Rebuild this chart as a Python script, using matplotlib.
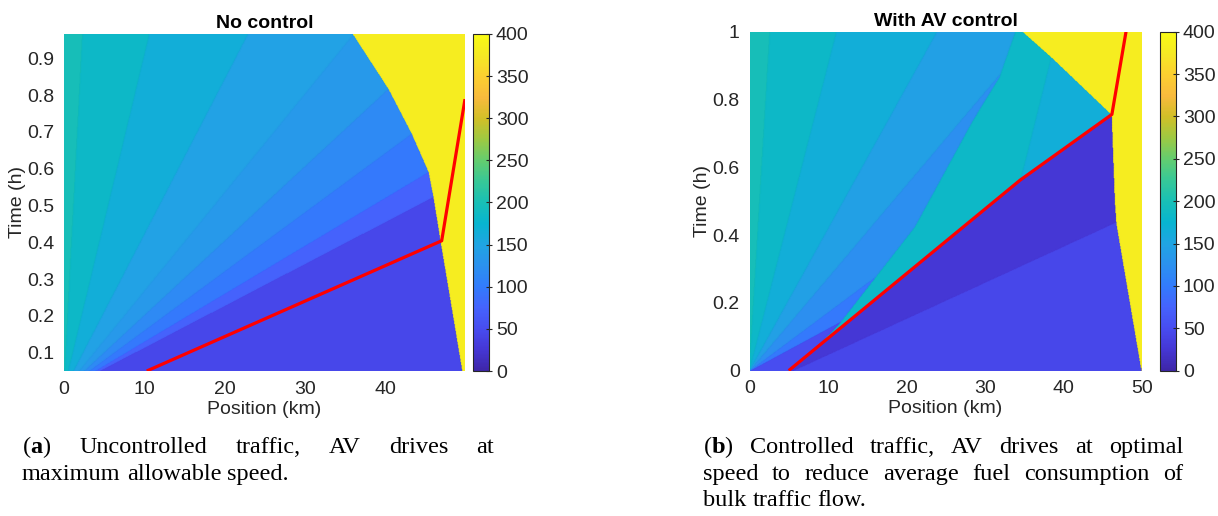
import numpy as np
import matplotlib.pyplot as plt
from matplotlib.colors import LinearSegmentedColormap

plt.rcParams['font.family'] = 'Liberation Sans'
plt.rcParams['mathtext.fontset'] = 'custom'
plt.rcParams['mathtext.rm'] = 'Liberation Serif'
plt.rcParams['mathtext.bf'] = 'Liberation Serif:bold'

# MATLAB parula, every 4th entry of the 64-colour table
parula = LinearSegmentedColormap.from_list('parula', [
    (0.2422, 0.1504, 0.6603), (0.2706, 0.2147, 0.8364), (0.2813, 0.3006, 0.9414),
    (0.2699, 0.3892, 0.9906), (0.1963, 0.4847, 0.9892), (0.1687, 0.5703, 0.9359),
    (0.1248, 0.6459, 0.8883), (0.0297, 0.7082, 0.8163), (0.0964, 0.7500, 0.7120),
    (0.2161, 0.7843, 0.5923), (0.3909, 0.8029, 0.4354), (0.6174, 0.7876, 0.2612),
    (0.8203, 0.7498, 0.1535), (0.9728, 0.7298, 0.2394), (0.9892, 0.8136, 0.1885),
    (0.9597, 0.9135, 0.1423), (0.9769, 0.9839, 0.0805)])

W, H = 1218, 516
TXT = '#262626'
FS = 14

# ---- (a) no control ----
nc_xlim = (0, 49.9)
nc_tlim = (0.05, 0.966)
nc_fan_speed = [2.4, 11.0, 23.7, 37.3, 49.4, 62.2, 76.7, 87.8]     # ray slopes from origin, km/h
nc_fan_density = [197, 183, 165, 146, 135, 117, 97, 74, 45]
nc_shock_t = [0.05, 0.402, 0.524, 0.592, 0.696, 0.818, 0.966]
nc_shock_x = [49.6, 46.9, 46.0, 45.4, 43.3, 40.4, 36.0]
nc_av_x = [10.3, 47.0, 49.9]
nc_av_t = [0.05, 0.404, 0.789]

jam_density = 380

# ---- (b) with AV control ----
ac_xlim = (0, 50)
ac_tlim = (0, 1)
ac_fan_speed = [2.6, 11.1, 23.9, 36.5, 58.0, 80.0]
ac_fan_density = [197, 183, 165, 145, 122, 97, 50]
ac_band_t = [0.067, 0.14, 0.425, 0.739, 0.867, 1.0]
ac_band_x = [8.5, 11.5, 21.1, 28.5, 31.9, 33.9]
ac_band_density = 183
ac_edge_t = [0.562, 0.592, 0.926]
ac_edge_x = [34.5, 34.9, 38.5]
ac_edge_density = 165
ac_wave_x0 = 5.5
ac_wave_speed = 94.0
ac_behind_density = 25
ac_ahead_density = 45
ac_shock_t = [0.0, 0.435, 0.503, 0.756, 0.926, 1.0]
ac_shock_x = [50.0, 46.8, 46.6, 46.2, 38.5, 34.9]
ac_av_x = [5.0, 34.5, 46.2, 48.0]
ac_av_t = [0.0, 0.562, 0.756, 1.0]

cbar_ticks = list(range(0, 401, 50))


def fan(X, T, speeds, dens):
    s = X / np.maximum(T, 1e-9)
    return np.array(dens, float)[np.digitize(s, speeds)]


def grid(xlim, tlim):
    x = np.linspace(xlim[0], xlim[1], 700)
    t = np.linspace(tlim[0], tlim[1], 560)
    X, T = np.meshgrid(x, t)
    return x, t, X, T


# field a
xa, ta, Xa, Ta = grid(nc_xlim, nc_tlim)
rho_a = fan(Xa, Ta, nc_fan_speed, nc_fan_density)
rho_a[Xa > np.interp(Ta, nc_shock_t, nc_shock_x)] = jam_density

# field b
xb, tb, Xb, Tb = grid(ac_xlim, ac_tlim)
rho_b = fan(Xb, Tb, ac_fan_speed, ac_fan_density)
below = (Xb >= ac_av_x[0]) & (Tb < np.interp(Xb, ac_av_x, ac_av_t))
above = ~below
rho_b[above & (Xb > np.interp(Tb, ac_band_t, ac_band_x))] = ac_band_density
rho_b[above & (Xb > np.interp(Tb, ac_edge_t, ac_edge_x))] = ac_edge_density
behind = (Xb - ac_wave_x0) < ac_wave_speed * Tb
rho_b[below & behind] = ac_behind_density
rho_b[below & ~behind] = ac_ahead_density
rho_b[Xb > np.interp(Tb, ac_shock_t, ac_shock_x)] = jam_density

fig = plt.figure(figsize=(W / 100, H / 100), dpi=100)


def panel(box, cbox, x, t, rho, avx, avt, xlim, tlim, xt, yt, ylab, title):
    ax = fig.add_axes(box)
    m = ax.pcolormesh(x, t, rho, cmap=parula, vmin=0, vmax=400, shading='gouraud', rasterized=True)
    ax.plot(avx, avt, color='#ff0000', lw=2.3, solid_capstyle='butt')
    ax.set_xlim(*xlim)
    ax.set_ylim(*tlim)
    ax.set_xticks(xt)
    ax.set_yticks(yt)
    ax.set_yticklabels(ylab)
    for s in ax.spines.values():
        s.set_visible(False)
    ax.tick_params(length=0, labelsize=FS, labelcolor=TXT, pad=7)
    ax.set_xlabel('Position (km)', fontsize=FS, color=TXT, labelpad=2)
    ax.set_ylabel('Time (h)', fontsize=FS, color=TXT, labelpad=1)
    ax.set_title(title, fontsize=FS, fontweight='bold', color='black', pad=4)
    cax = fig.add_axes(cbox)
    cb = fig.colorbar(m, cax=cax, ticks=cbar_ticks)
    cb.outline.set_edgecolor(TXT)
    cb.outline.set_linewidth(0.8)
    cax.tick_params(direction='inout', length=4, width=0.8, color=TXT,
                    labelsize=FS, labelcolor=TXT, pad=3)
    return ax


panel([64 / W, 145 / H, 401 / W, 337 / H], [473 / W, 145 / H, 16 / W, 337 / H],
      xa, ta, rho_a, nc_av_x, nc_av_t, nc_xlim, nc_tlim,
      [0, 10, 20, 30, 40], [0.1, 0.2, 0.3, 0.4, 0.5, 0.6, 0.7, 0.8, 0.9],
      ['0.1', '0.2', '0.3', '0.4', '0.5', '0.6', '0.7', '0.8', '0.9'], 'No control')
panel([749.5 / W, 145.4 / H, 392.2 / W, 338.9 / H], [1160 / W, 145.4 / H, 16 / W, 338.9 / H],
      xb, tb, rho_b, ac_av_x, ac_av_t, ac_xlim, ac_tlim,
      [0, 10, 20, 30, 40, 50], [0, 0.2, 0.4, 0.6, 0.8, 1],
      ['0', '0.2', '0.4', '0.6', '0.8', '1'], 'With AV control')

# captions, justified like the paper
cap_size = 17.5
renderer = fig.canvas.get_renderer()


def line(words, x0, x1, y, justify=True):
    ts = [fig.text(0, 1 - y / H, w, fontsize=cap_size, family='Liberation Serif',
                   color='black', va='baseline') for w in words]
    ws = [t.get_window_extent(renderer).width for t in ts]
    gap = (x1 - x0 - sum(ws)) / (len(ws) - 1) if justify else cap_size * 100 / 72 * 0.25
    xp = x0
    for t, w in zip(ts, ws):
        t.set_x(xp / W)
        xp += w + gap


line([r'($\mathbf{a}$)', 'Uncontrolled', 'traffic,', 'AV', 'drives', 'at'], 22, 494, 453)
line(['maximum', 'allowable', 'speed.'], 22, 494, 480, justify=False)
line([r'($\mathbf{b}$)', 'Controlled', 'traffic,', 'AV', 'drives', 'at', 'optimal'], 703, 1183, 453)
line(['speed', 'to', 'reduce', 'average', 'fuel', 'consumption', 'of'], 703, 1183, 480)
line(['bulk', 'traffic', 'flow.'], 703, 1183, 506, justify=False)

fig.savefig('out.png', dpi=100)
